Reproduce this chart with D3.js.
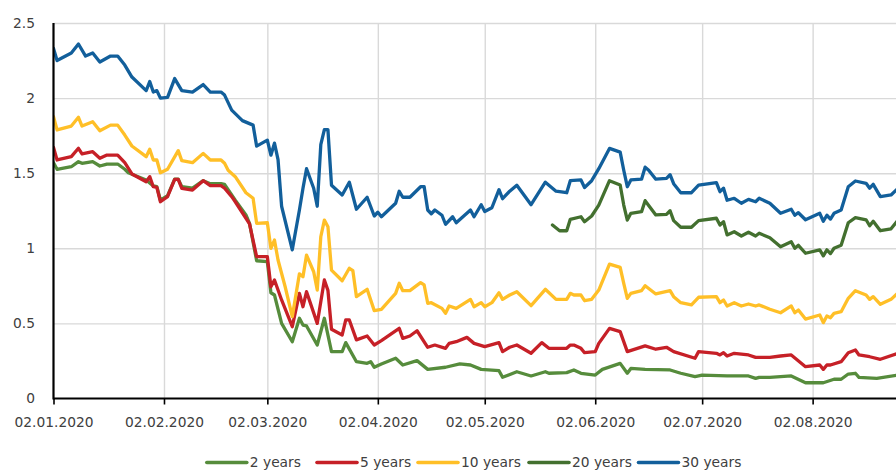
<!DOCTYPE html>
<html><head><meta charset="utf-8">
<script src="https://cdn.jsdelivr.net/npm/d3@7"></script>
<style>html,body{margin:0;padding:0;background:#fff;} svg{display:block;}</style>
</head><body>
<svg id="chart" width="896" height="471"></svg>
<script>
const YEAR = "2020";
const seriesNames = ["2 years", "5 years", "10 years", "20 years", "30 years"];
const seriesColors = ["#568c3c", "#c62027", "#ffbf27", "#43702f", "#125f9b"];
const xTickLabels = ["02.01.2020","02.02.2020","02.03.2020","02.04.2020","02.05.2020","02.06.2020","02.07.2020","02.08.2020"];
const yTickValues = [0, 0.5, 1, 1.5, 2, 2.5];

// 2 years
const dates2y = ["01-02","01-03","01-07","01-09","01-10","01-13","01-15","01-17","01-20","01-22","01-23","01-28","01-30","01-31","02-01","02-03","02-05","02-06","02-07","02-10","02-13","02-15","02-18","02-19","02-22","02-25","02-26","02-28","03-02","03-03","03-04","03-06","03-09","03-11","03-12","03-13","03-16","03-18","03-20","03-23","03-24","03-27","03-30","03-31","04-01","04-03","04-07","04-09","04-13","04-16","04-21","04-25","04-28","05-01","05-06","05-07","05-11","05-15","05-19","05-20","05-25","05-27","05-29","06-02","06-04","06-09","06-11","06-12","06-16","06-23","06-26","06-30","07-02","07-09","07-15","07-17","07-18","07-21","07-27","07-31","08-05","08-08","08-10","08-12","08-14","08-15","08-20","08-26"];
const yields2y = [1.57,1.526,1.543,1.577,1.566,1.577,1.548,1.561,1.561,1.526,1.503,1.455,1.415,1.41,1.32,1.35,1.46,1.46,1.41,1.40,1.45,1.43,1.43,1.425,1.32,1.222,1.166,0.917,0.911,0.704,0.689,0.50,0.378,0.534,0.489,0.483,0.356,0.534,0.312,0.312,0.372,0.245,0.234,0.245,0.208,0.23,0.268,0.223,0.252,0.194,0.208,0.23,0.223,0.194,0.185,0.141,0.178,0.15,0.178,0.168,0.172,0.19,0.168,0.156,0.194,0.234,0.168,0.20,0.194,0.19,0.168,0.145,0.156,0.15,0.15,0.134,0.141,0.141,0.15,0.105,0.105,0.128,0.128,0.163,0.168,0.141,0.134,0.156];

// 5 years
const dates5y = ["01-02","01-03","01-07","01-09","01-10","01-13","01-15","01-17","01-20","01-22","01-24","01-28","01-29","01-30","01-31","02-01","02-03","02-05","02-06","02-07","02-10","02-13","02-15","02-18","02-19","02-21","02-22","02-25","02-26","02-28","03-02","03-03","03-04","03-06","03-09","03-11","03-12","03-13","03-16","03-18","03-19","03-20","03-23","03-24","03-25","03-27","03-30","04-01","04-03","04-08","04-09","04-11","04-13","04-16","04-18","04-21","04-22","04-24","04-27","04-29","05-02","05-06","05-07","05-09","05-11","05-15","05-18","05-20","05-25","05-26","05-27","05-29","05-30","06-02","06-03","06-06","06-09","06-11","06-16","06-19","06-22","06-24","06-30","07-01","07-06","07-07","07-08","07-09","07-11","07-15","07-17","07-21","07-24","07-27","07-31","08-04","08-05","08-06","08-07","08-10","08-12","08-14","08-15","08-18","08-21","08-26"];
const yields5y = [1.672,1.588,1.61,1.666,1.628,1.643,1.599,1.621,1.621,1.57,1.495,1.443,1.477,1.41,1.406,1.31,1.344,1.459,1.459,1.399,1.388,1.45,1.417,1.417,1.40,1.344,1.31,1.20,1.162,0.944,0.944,0.744,0.789,0.656,0.478,0.70,0.611,0.711,0.50,0.789,0.72,0.461,0.423,0.523,0.523,0.39,0.416,0.356,0.385,0.467,0.40,0.416,0.451,0.341,0.356,0.334,0.367,0.378,0.407,0.367,0.345,0.372,0.312,0.341,0.356,0.301,0.372,0.334,0.334,0.356,0.356,0.334,0.305,0.312,0.367,0.467,0.445,0.312,0.35,0.328,0.341,0.312,0.268,0.312,0.301,0.29,0.305,0.283,0.301,0.29,0.274,0.274,0.283,0.29,0.212,0.223,0.194,0.223,0.223,0.245,0.305,0.323,0.29,0.278,0.261,0.301];

// 10 years
const dates10y = ["01-02","01-03","01-07","01-09","01-10","01-13","01-15","01-18","01-20","01-22","01-24","01-28","01-29","01-30","01-31","02-01","02-03","02-06","02-07","02-10","02-13","02-15","02-18","02-19","02-20","02-22","02-25","02-27","02-28","03-02","03-03","03-04","03-05","03-07","03-09","03-11","03-12","03-13","03-15","03-16","03-17","03-18","03-19","03-20","03-23","03-25","03-26","03-27","03-30","04-01","04-03","04-07","04-08","04-09","04-11","04-14","04-15","04-16","04-17","04-20","04-21","04-22","04-24","04-28","04-29","05-01","05-02","05-04","05-06","05-07","05-09","05-11","05-15","05-19","05-22","05-25","05-26","05-27","05-29","05-30","06-01","06-03","06-06","06-09","06-10","06-11","06-12","06-15","06-16","06-19","06-23","06-24","06-26","06-29","07-01","07-06","07-07","07-08","07-09","07-11","07-13","07-15","07-17","07-18","07-21","07-24","07-27","07-28","07-29","07-31","08-04","08-05","08-06","08-07","08-08","08-10","08-12","08-14","08-17","08-18","08-19","08-21","08-24","08-26"];
const yields10y = [1.876,1.788,1.814,1.872,1.814,1.843,1.783,1.82,1.82,1.754,1.681,1.61,1.659,1.588,1.588,1.503,1.526,1.65,1.583,1.57,1.632,1.588,1.588,1.566,1.52,1.477,1.37,1.333,1.166,1.17,1.0,1.055,0.922,0.744,0.545,0.83,0.811,0.955,0.844,0.722,1.077,1.188,1.144,0.855,0.784,0.867,0.851,0.678,0.727,0.585,0.594,0.70,0.767,0.718,0.718,0.771,0.756,0.634,0.638,0.60,0.567,0.616,0.60,0.66,0.611,0.638,0.611,0.638,0.704,0.66,0.689,0.711,0.618,0.727,0.66,0.66,0.70,0.689,0.689,0.651,0.66,0.722,0.895,0.873,0.767,0.667,0.70,0.718,0.751,0.696,0.718,0.678,0.638,0.623,0.674,0.678,0.638,0.656,0.616,0.638,0.616,0.629,0.616,0.623,0.594,0.571,0.616,0.571,0.589,0.529,0.556,0.505,0.549,0.538,0.567,0.578,0.667,0.718,0.689,0.66,0.678,0.627,0.66,0.704];

// 20 years
const dates20y = ["05-21","05-23","05-25","05-26","05-29","05-30","06-01","06-03","06-06","06-09","06-10","06-11","06-12","06-15","06-16","06-19","06-22","06-23","06-24","06-26","06-29","07-01","07-06","07-07","07-08","07-09","07-11","07-13","07-15","07-17","07-18","07-21","07-24","07-27","07-28","07-29","07-31","08-04","08-05","08-06","08-07","08-08","08-10","08-12","08-14","08-17","08-18","08-19","08-21","08-24","08-26"];
const yields20y = [1.155,1.117,1.117,1.193,1.21,1.177,1.215,1.288,1.45,1.421,1.288,1.188,1.233,1.244,1.317,1.222,1.226,1.25,1.184,1.14,1.14,1.184,1.20,1.155,1.177,1.089,1.11,1.082,1.107,1.082,1.10,1.07,1.01,1.044,1.00,1.02,0.967,0.99,0.95,0.99,0.965,1.00,1.02,1.17,1.204,1.19,1.15,1.18,1.117,1.13,1.188];

// 30 years
const dates30y = ["01-02","01-03","01-07","01-09","01-11","01-13","01-15","01-18","01-20","01-22","01-24","01-28","01-29","01-30","01-31","02-01","02-03","02-05","02-07","02-10","02-13","02-15","02-18","02-19","02-20","02-21","02-24","02-27","02-28","03-02","03-03","03-04","03-05","03-06","03-09","03-11","03-12","03-13","03-15","03-16","03-17","03-18","03-19","03-20","03-23","03-25","03-27","03-30","04-01","04-02","04-03","04-07","04-08","04-09","04-11","04-14","04-15","04-16","04-17","04-18","04-20","04-21","04-23","04-24","04-28","04-29","05-01","05-02","05-04","05-06","05-07","05-09","05-11","05-15","05-19","05-22","05-25","05-26","05-29","05-30","06-01","06-03","06-06","06-09","06-10","06-11","06-12","06-15","06-16","06-17","06-19","06-22","06-23","06-24","06-26","06-29","07-01","07-06","07-07","07-08","07-09","07-11","07-13","07-15","07-17","07-18","07-21","07-24","07-27","07-28","07-29","07-31","08-04","08-05","08-06","08-07","08-08","08-10","08-12","08-14","08-17","08-18","08-19","08-21","08-24","08-26"];
const yields30y = [2.33,2.25,2.30,2.36,2.28,2.30,2.24,2.28,2.28,2.22,2.14,2.05,2.11,2.04,2.05,2.00,2.005,2.13,2.05,2.04,2.09,2.04,2.04,2.02,1.97,1.92,1.85,1.82,1.68,1.72,1.62,1.70,1.59,1.28,0.99,1.255,1.40,1.53,1.40,1.28,1.69,1.79,1.79,1.42,1.355,1.44,1.26,1.34,1.215,1.24,1.21,1.30,1.38,1.34,1.34,1.41,1.41,1.255,1.23,1.255,1.22,1.16,1.21,1.17,1.255,1.21,1.29,1.245,1.27,1.39,1.33,1.38,1.42,1.29,1.44,1.38,1.37,1.45,1.455,1.405,1.45,1.53,1.665,1.64,1.52,1.41,1.455,1.46,1.54,1.52,1.46,1.465,1.49,1.43,1.37,1.37,1.42,1.437,1.377,1.40,1.32,1.333,1.30,1.326,1.31,1.333,1.30,1.233,1.26,1.22,1.237,1.19,1.233,1.18,1.22,1.195,1.233,1.255,1.41,1.448,1.433,1.40,1.426,1.344,1.355,1.40];

const seriesDates = [dates2y, dates5y, dates10y, dates20y, dates30y];
const seriesValues = [yields2y, yields5y, yields10y, yields20y, yields30y];

const parseDay = s => d3.utcParse("%Y-%m-%d")(YEAR + "-" + s);
const parseTick = d3.utcParse("%d.%m.%Y");

const W = 896, H = 471;
const plotLeft = 53.5, plotTop = 23, plotBottom = 398.5;
const pxPerDay = 3.564;
const startDate = parseDay("01-02");
const endDate = d3.utcDay.offset(startDate, 239);

const x = d3.scaleUtc().domain([startDate, endDate]).range([plotLeft, plotLeft + 239 * pxPerDay]);
const y = d3.scaleLinear().domain([0, 2.5]).range([plotBottom, plotTop]);

const svg = d3.select("#chart");
const FONT = "'DejaVu Sans', sans-serif";
const FS = 13.8;
const TEXT = "#404040";

svg.append("defs").append("clipPath").attr("id", "plotclip")
  .append("rect").attr("x", plotLeft).attr("y", 0).attr("width", W - plotLeft).attr("height", H);

// horizontal grid
const gy = svg.append("g").attr("transform", `translate(${plotLeft},0)`)
  .call(d3.axisLeft(y).tickValues(yTickValues.filter(v => v > 0)).tickSize(-(W - plotLeft)).tickFormat(""));
gy.select(".domain").remove();
gy.selectAll("line").attr("stroke", "#d9d9d9").attr("stroke-width", 1.4);

// vertical grid
const tickDates = xTickLabels.map(parseTick);
const gx = svg.append("g").attr("transform", `translate(0,${plotTop})`)
  .call(d3.axisBottom(x).tickValues(tickDates.slice(1)).tickSize(plotBottom - plotTop).tickFormat(""));
gx.select(".domain").remove();
gx.selectAll("line").attr("stroke", "#d9d9d9").attr("stroke-width", 1.4);

// lines
const line = d3.line().defined(d => d.v != null).x(d => x(d.t)).y(d => y(d.v));
const plot = svg.append("g").attr("clip-path", "url(#plotclip)");
seriesNames.forEach((name, i) => {
  const pts = seriesDates[i].map((s, j) => ({t: parseDay(s), v: seriesValues[i][j]}));
  plot.append("path").datum(pts)
    .attr("fill", "none").attr("stroke", seriesColors[i]).attr("stroke-width", 3.3)
    .attr("stroke-linejoin", "round").attr("stroke-linecap", "round")
    .attr("d", line);
});

// x axis
const ax = svg.append("g").attr("transform", `translate(0,${plotBottom})`)
  .call(d3.axisBottom(x).tickValues(tickDates).tickSize(6).tickPadding(13)
    .tickFormat((d, i) => xTickLabels[i]));
ax.select(".domain").attr("d", `M${plotLeft},0H${W}`).attr("stroke", "#000").attr("stroke-width", 2.2);
ax.selectAll(".tick line").attr("stroke", "#000").attr("stroke-width", 1.6);
ax.selectAll("text").attr("font-family", FONT).attr("font-size", FS).attr("fill", TEXT);

// y axis
const ay = svg.append("g").attr("transform", `translate(${plotLeft},0)`)
  .call(d3.axisLeft(y).tickValues(yTickValues).tickSize(0).tickPadding(18.5).tickFormat(d3.format("")));
ay.select(".domain").attr("d", `M0,${plotTop}V${plotBottom + 1}`).attr("stroke", "#000").attr("stroke-width", 2.2);
ay.selectAll("text").attr("font-family", FONT).attr("font-size", FS).attr("fill", TEXT);

// legend (entry start positions are layout, not data)
const legendX = [206.8, 317, 418, 529, 638.5];
const legend = svg.append("g").attr("transform", "translate(0,462.5)");
seriesNames.forEach((name, i) => {
  const g = legend.append("g").attr("transform", `translate(${legendX[i]},0)`);
  g.append("line").attr("x1", 0).attr("x2", 40).attr("y1", 0).attr("y2", 0)
    .attr("stroke", seriesColors[i]).attr("stroke-width", 3.6).attr("stroke-linecap", "round");
  g.append("text").attr("x", 43).attr("y", 0).attr("dy", "0.36em")
    .attr("font-family", FONT).attr("font-size", FS).attr("fill", TEXT).text(name);
});
</script>
</body></html>
